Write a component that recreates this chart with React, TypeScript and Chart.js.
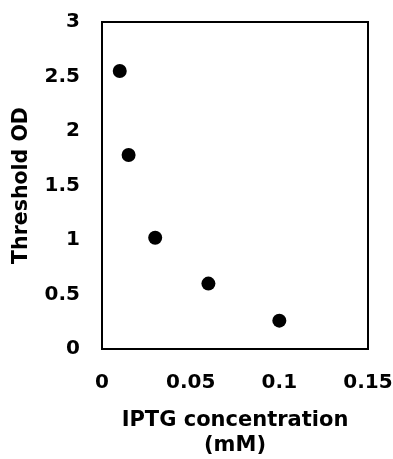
import React, { useEffect, useRef } from "react";
import { Chart, registerables } from "chart.js";

Chart.register(...registerables);

const iptgConcentration = [0.01, 0.015, 0.03, 0.06, 0.1];
const thresholdOD = [2.55, 1.78, 1.02, 0.6, 0.26];
const xTickValues = [0, 0.05, 0.1, 0.15];
const xTickLabels = ["0", "0.05", "0.1", "0.15"];
const yTickValues = [0, 0.5, 1, 1.5, 2, 2.5, 3];
const yTickLabels = ["0", "0.5", "1", "1.5", "2", "2.5", "3"];
const xTitle = ["IPTG concentration", "(mM)"];
const yTitle = "Threshold OD";

const FONT = "'DejaVu Sans', 'Liberation Sans', Arial, sans-serif";

const framePlugin = {
  id: "frame",
  afterDatasetsDraw(chart: any) {
    const { ctx, chartArea } = chart;
    ctx.save();
    ctx.strokeStyle = "#000";
    ctx.lineWidth = 2;
    ctx.strokeRect(
      chartArea.left,
      chartArea.top,
      chartArea.right - chartArea.left,
      chartArea.bottom - chartArea.top
    );
    ctx.restore();
  },
};

function labelFor(values: number[], labels: string[], v: number) {
  for (let i = 0; i < values.length; i++) {
    if (Math.abs(values[i] - v) < 1e-9) return labels[i];
  }
  return "";
}

export default function App() {
  const ref = useRef<HTMLCanvasElement | null>(null);

  useEffect(() => {
    if (!ref.current) return;
    const chart = new Chart(ref.current, {
      type: "scatter",
      data: {
        datasets: [
          {
            data: iptgConcentration.map((x, i) => ({ x, y: thresholdOD[i] })),
            backgroundColor: "#000",
            borderColor: "#000",
            pointRadius: 7,
            borderWidth: 0,
          },
        ],
      },
      options: {
        animation: false,
        responsive: false,
        maintainAspectRatio: false,
        layout: { padding: { left: 0, top: 22, right: 25, bottom: 0 } },
        plugins: {
          legend: { display: false },
          tooltip: { enabled: false },
        },
        scales: {
          x: {
            type: "linear",
            min: 0,
            max: 0.15,
            afterBuildTicks: (scale: any) => {
              scale.ticks = xTickValues.map((v) => ({ value: v }));
            },
            afterFit: (scale: any) => {
              scale.height = 110;
              scale.paddingLeft = 0;
              scale.paddingRight = 0;
              scale.paddingTop = 0;
              scale.paddingBottom = 0;
            },
            grid: { display: false, drawTicks: false },
            border: { display: false },
            ticks: {
              padding: 22,
              color: "#000",
              font: { family: FONT, size: 20, weight: "bold" },
              maxRotation: 0,
              callback: (v: any) => labelFor(xTickValues, xTickLabels, Number(v)),
            },
            title: {
              display: true,
              text: xTitle,
              color: "#000",
              font: { family: FONT, size: 21, weight: "bold", lineHeight: 1.2 },
              padding: { top: 0, bottom: 1 },
            },
          },
          y: {
            type: "linear",
            min: 0,
            max: 3,
            afterBuildTicks: (scale: any) => {
              scale.ticks = yTickValues.map((v) => ({ value: v }));
            },
            afterFit: (scale: any) => {
              scale.width = 102;
              scale.paddingLeft = 0;
              scale.paddingRight = 0;
              scale.paddingTop = 0;
              scale.paddingBottom = 0;
            },
            grid: { display: false, drawTicks: false },
            border: { display: false },
            ticks: {
              padding: 22,
              color: "#000",
              font: { family: FONT, size: 20, weight: "bold" },
              callback: (v: any) => labelFor(yTickValues, yTickLabels, Number(v)),
            },
            title: {
              display: true,
              text: yTitle,
              color: "#000",
              font: { family: FONT, size: 20.5, weight: "bold", lineHeight: 1.2 },
              padding: { top: 9, bottom: 0 },
            },
          },
        },
      },
      plugins: [framePlugin],
    } as any);
    return () => chart.destroy();
  }, []);

  return (
    <div
      style={{
        position: "fixed",
        left: 0,
        top: 0,
        width: 393,
        height: 459,
        background: "#fff",
      }}
    >
      <canvas ref={ref} width={393} height={459} style={{ width: 393, height: 459 }} />
    </div>
  );
}
